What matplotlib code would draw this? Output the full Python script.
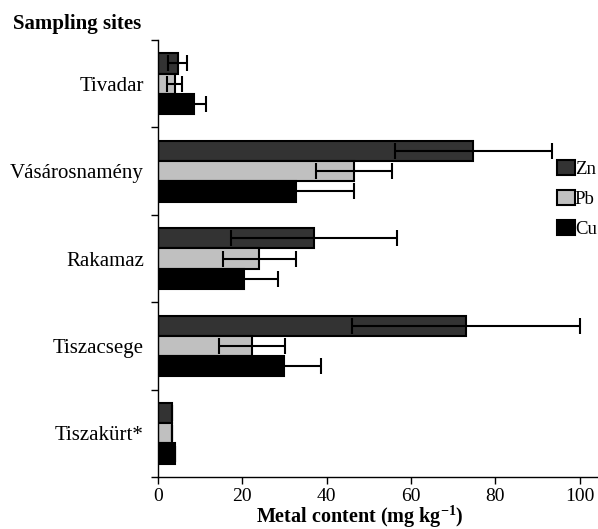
import matplotlib.pyplot as plt
from matplotlib.patches import Patch
import numpy as np

plt.rcParams['font.family'] = ['Liberation Serif', 'DejaVu Serif']
plt.rcParams['mathtext.fontset'] = 'custom'
plt.rcParams['mathtext.bf'] = 'Liberation Serif:bold'
plt.rcParams['mathtext.rm'] = 'Liberation Serif'

sites = ['Tivadar', 'Vásárosnamény', 'Rakamaz', 'Tiszacsege', 'Tiszakürt*']
metals = ['Zn', 'Pb', 'Cu']

# mean metal content (mg/kg) and error (+/-)
zn = [4.7, 74.7, 37.0, 73.0, 3.5]
zn_err = [2.2, 18.6, 19.6, 27.0, 0]
pb = [4.0, 46.5, 24.1, 22.3, 3.5]
pb_err = [1.8, 9.0, 8.6, 7.8, 0]
cu = [8.7, 32.7, 20.4, 29.9, 4.1]
cu_err = [2.7, 13.8, 8.2, 8.9, 0]

xticks = [0, 20, 40, 60, 80, 100]

colors = ['#333333', '#c0c0c0', '#000000']

fig = plt.figure(figsize=(5.98, 5.29), dpi=100)
ax = fig.add_axes([0.2637, 0.0983, 0.7363, 0.826])

y = np.arange(len(sites))
h = 0.232
offsets = [-h, 0, h]
err_kw = dict(ecolor='black', elinewidth=1.5, capsize=5.6, capthick=1.5)

for vals, errs, col, off in zip([zn, pb, cu], [zn_err, pb_err, cu_err], colors, offsets):
    ax.barh(y + off, vals, height=h, xerr=errs, color=col, edgecolor='black',
            linewidth=1.5, error_kw=err_kw)

ax.set_xlim(0, 104.3)
ax.set_ylim(4.5, -0.5)

ax.set_xticks(xticks)
ax.set_xticklabels([str(t) for t in xticks], fontsize=14)
ax.tick_params(axis='x', direction='out', length=5, width=1, pad=3)

# boundary ticks between groups, labels in the middle
ax.set_yticks(np.arange(-0.5, len(sites), 1.0))
ax.set_yticklabels([])
ax.set_yticks(y, minor=True)
ax.set_yticklabels(sites, minor=True, fontsize=15)
ax.tick_params(axis='y', which='major', direction='out', length=5, width=1)
ax.tick_params(axis='y', which='minor', length=0, pad=10)

for s in ['top', 'right']:
    ax.spines[s].set_visible(False)
ax.spines['left'].set_linewidth(1)
ax.spines['bottom'].set_linewidth(1)

handles = [Patch(facecolor=c, edgecolor='black', linewidth=1.5, label=m)
           for c, m in zip(colors, metals)]
ax.legend(handles=handles, loc='upper left', bbox_to_anchor=(557 / 598, 1 - 160 / 529),
          bbox_transform=fig.transFigure, frameon=False, fontsize=13.5,
          handlelength=0.95, handleheight=0.85, handletextpad=0.0,
          labelspacing=0.65, borderpad=0, borderaxespad=0)

fig.text(13 / 598, 1 - 24 / 529, 'Sampling sites', fontsize=15, fontweight='bold',
         va='center', ha='left')
fig.text(360 / 598, 1 - 517 / 529, 'Metal content (mg kg$^{\\mathbf{-1}}$)', fontsize=14.5,
         fontweight='bold', va='center', ha='center')

fig.savefig('out.png', dpi=100)
